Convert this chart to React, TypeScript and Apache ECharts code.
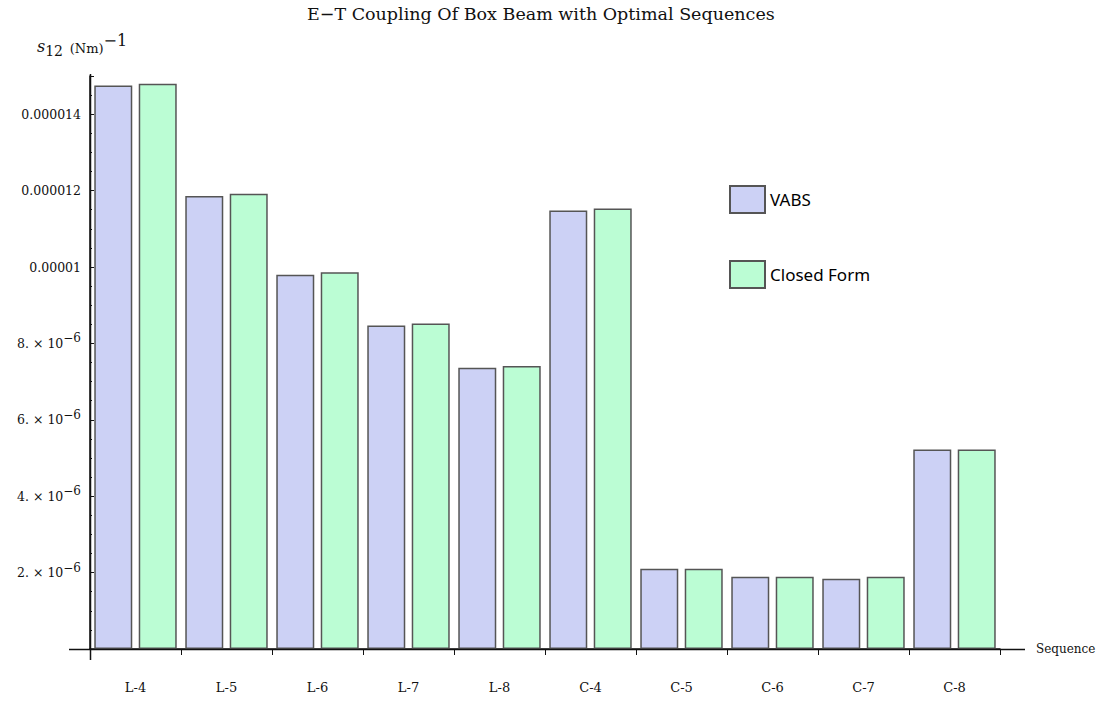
import React, { useEffect, useRef } from "react";
import * as echarts from "echarts";

const categories = ["L-4", "L-5", "L-6", "L-7", "L-8", "C-4", "C-5", "C-6", "C-7", "C-8"];
const vabs = [1.475e-5, 1.186e-5, 9.8e-6, 8.47e-6, 7.36e-6, 1.148e-5, 2.1e-6, 1.89e-6, 1.84e-6, 5.22e-6];
const closedForm = [1.48e-5, 1.192e-5, 9.86e-6, 8.52e-6, 7.41e-6, 1.153e-5, 2.1e-6, 1.89e-6, 1.89e-6, 5.22e-6];
const yTickLabels: Record<number, string> = {
  2: "2. × 10{sup|−6}",
  4: "4. × 10{sup|−6}",
  6: "6. × 10{sup|−6}",
  8: "8. × 10{sup|−6}",
  10: "0.00001",
  12: "0.000012",
  14: "0.000014",
};

const serif = "DejaVu Serif";

export default function App() {
  const ref = useRef<HTMLDivElement>(null);
  useEffect(() => {
    if (!ref.current) return;
    const chart = echarts.init(ref.current, null, { renderer: "svg" });
    chart.setOption({
      animation: false,
      backgroundColor: "#ffffff",
      title: {
        text: "E−T Coupling Of Box Beam with Optimal Sequences",
        left: 302,
        top: 0,
        textStyle: { fontFamily: serif, fontSize: 17.5, fontWeight: "normal", color: "#111" },
      },
      legend: {
        orient: "vertical",
        left: 724,
        top: 180,
        itemWidth: 35,
        itemHeight: 27,
        itemGap: 46,
        icon: "rect",
        textStyle: { fontFamily: "Noto Sans", fontSize: 17, color: "#000" },
        data: ["VABS", "Closed Form"],
      },
      grid: { left: 90, right: 104, top: 76, bottom: 53, containLabel: false },
      xAxis: {
        type: "category",
        data: categories,
        name: "Sequence",
        nameLocation: "end",
        nameGap: 36,
        nameTextStyle: { fontFamily: serif, fontSize: 12, color: "#111" },
        axisLine: { show: true, lineStyle: { color: "#111", width: 1.5 } },
        axisTick: { show: true, inside: false, length: 6, lineStyle: { color: "#111" } },
        axisLabel: { fontFamily: serif, fontSize: 13, color: "#111", margin: 32 },
      },
      yAxis: {
        type: "value",
        min: 0,
        max: 1.5e-5,
        interval: 2e-6,
        splitLine: { show: false },
        axisLine: { show: true, lineStyle: { color: "#111", width: 1.5 } },
        axisTick: { show: true, inside: true, length: 4, lineStyle: { color: "#111" } },
        minorTick: { show: true, splitNumber: 4, length: 2, lineStyle: { color: "#111" } },
        axisLabel: {
          fontFamily: serif,
          fontSize: 12.5,
          color: "#111",
          margin: 9,
          showMaxLabel: false,
          formatter: (v: number) => {
            const k = Math.round(v * 1e6);
            return yTickLabels[k] ?? "";
          },
          rich: {
            sup: { fontFamily: serif, fontSize: 12, padding: [0, 0, 10, 0], color: "#111" },
          },
        },
      },
      graphic: [
        { type: "line", shape: { x1: 69, y1: 649.5, x2: 1025, y2: 649.5 }, style: { stroke: "#111", lineWidth: 1.5 }, z: 10 },
        { type: "line", shape: { x1: 90.5, y1: 74, x2: 90.5, y2: 660 }, style: { stroke: "#111", lineWidth: 1.5 }, z: 10 },
        {
          type: "text",
          left: 37,
          top: 32,
          style: {
            text: "{s|s}{sub|12}  {n|(Nm)}{sup|−1}",
            rich: {
              s: { fontFamily: serif, fontStyle: "italic", fontSize: 16, fill: "#111" },
              sub: { fontFamily: serif, fontSize: 14, padding: [9, 0, 0, 0], fill: "#111" },
              n: { fontFamily: serif, fontSize: 13, fill: "#111", padding: [4, 0, 0, 0] },
              sup: { fontFamily: serif, fontSize: 16, padding: [0, 0, 12, 0], fill: "#111" },
            },
          },
        },
      ],
      series: [
        {
          name: "VABS",
          type: "bar",
          data: vabs,
          barWidth: 38,
          barGap: "17%",
          itemStyle: { color: "#ccd1f5", borderColor: "#555", borderWidth: 1.5 },
        },
        {
          name: "Closed Form",
          type: "bar",
          data: closedForm,
          barWidth: 38,
          barGap: "17%",
          itemStyle: { color: "#bbfdd4", borderColor: "#555", borderWidth: 1.5 },
        },
      ],
    });
    return () => chart.dispose();
  }, []);
  return <div ref={ref} style={{ position: "fixed", left: 0, top: 0, width: 1104, height: 702 }} />;
}
